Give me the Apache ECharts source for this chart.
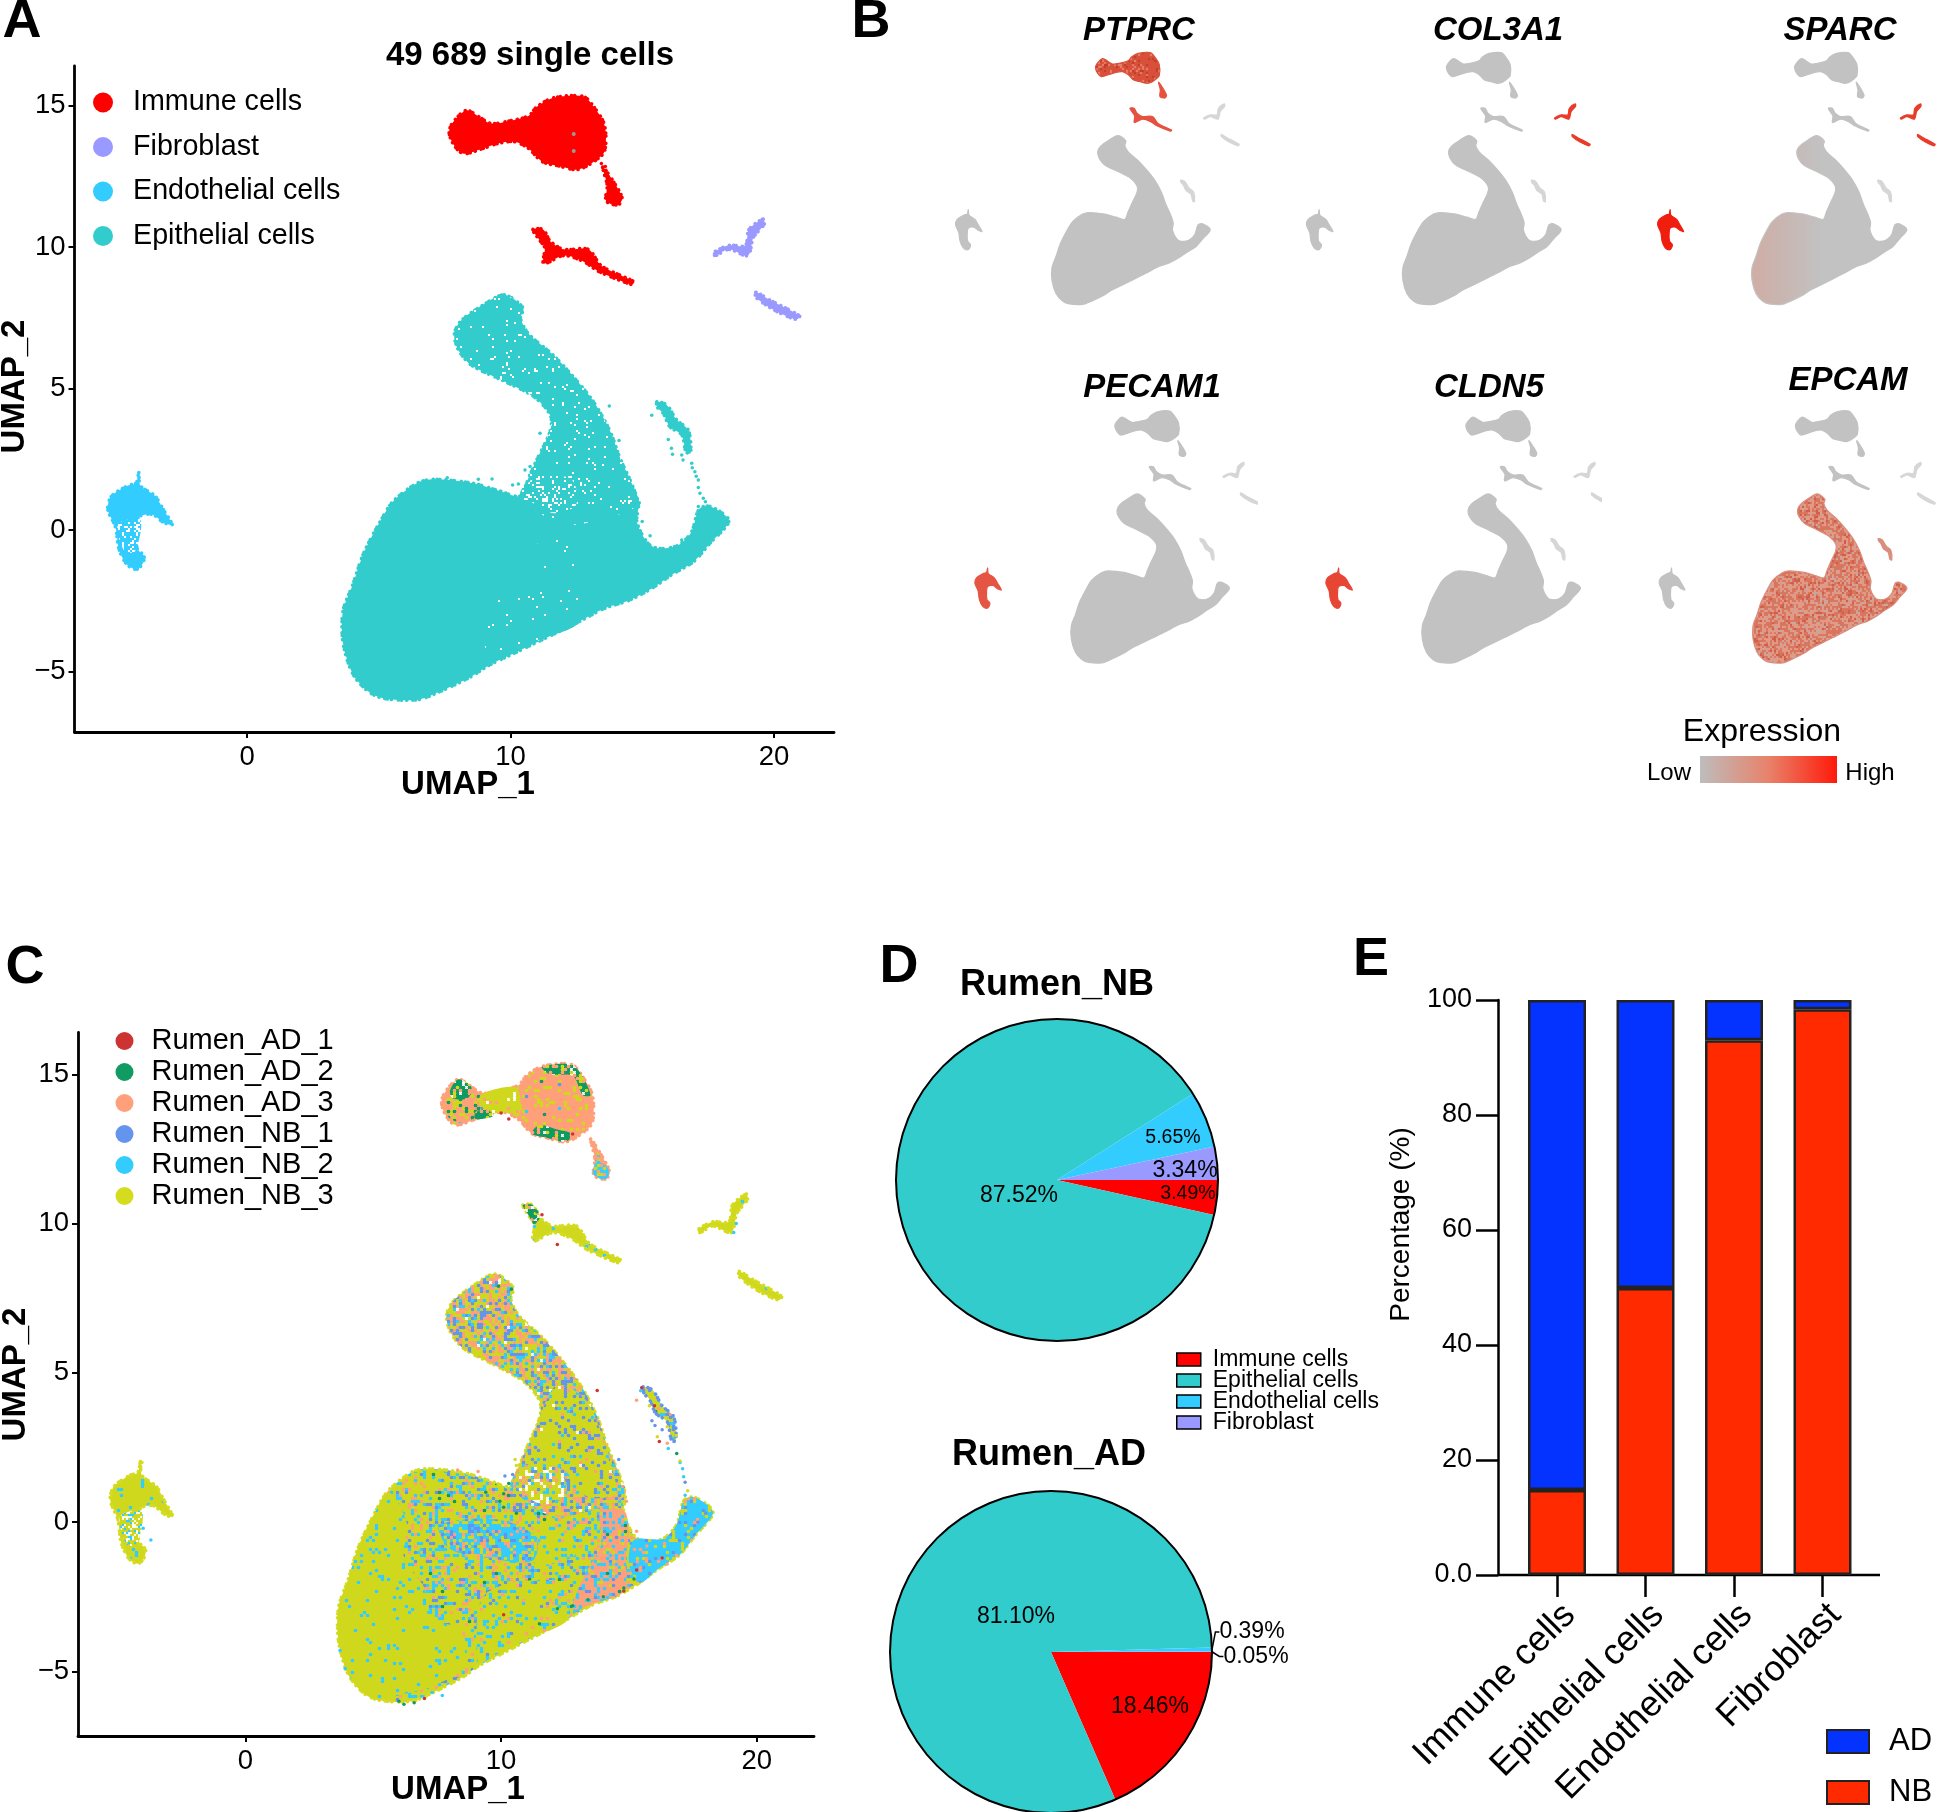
<!DOCTYPE html>
<html><head><meta charset="utf-8">
<style>html,body{margin:0;padding:0;background:#fff}#c{width:1946px;height:1812px}</style>
<script src="https://cdn.jsdelivr.net/npm/echarts@6/dist/echarts.min.js"></script>
</head><body><div id="c"></div>
<script>
// ---------- DATA: cluster outlines (UMAP_1, UMAP_2) ----------
const epiBody=[[9.76,8.31],[10.48,7.85],[10.38,7.48],[10.69,6.93],[11.61,6.19],[12.44,5.36],[13.16,4.52],[13.77,3.51],[14.18,2.49],[14.59,1.66],[14.86,0.92],[14.8,0.28],[15.21,-0.46],[15.62,-0.65],[16.34,-0.55],[16.86,-0.09],[17.16,0.74],[17.58,0.83],[18.29,0.33],[17.58,-0.46],[16.96,-1.11],[16.14,-1.57],[15.42,-2.03],[14.49,-2.49],[13.57,-2.77],[12.44,-3.32],[11.2,-3.88],[9.97,-4.43],[9.15,-4.8],[8.53,-5.17],[7.3,-5.72],[6.47,-6],[5.24,-5.96],[4.62,-5.72],[4.01,-5.08],[3.64,-3.97],[3.64,-2.86],[4.01,-1.94],[4.42,-0.83],[5.04,0.28],[5.55,1.02],[6.47,1.66],[7.09,1.79],[8.53,1.66],[9.56,1.39],[10.38,1.2],[10.69,1.85],[11,2.49],[11.51,3.51],[11.51,4.06],[10.89,4.71],[9.76,5.26],[8.53,5.82],[8.02,6.37],[7.87,6.93],[8.12,7.39],[8.94,7.94]];
const epiTail=[[15.55,4.53],[15.93,4.42],[16.31,3.89],[16.75,3.53],[16.84,2.71],[16.66,2.77],[16.5,3.36],[16.05,3.65],[15.8,4.12],[15.6,4.3]];
const endoBlob=[[-4.11,2.03],[-4.05,1.57],[-3.49,1.2],[-3.19,0.74],[-2.84,0.18],[-3.19,0.28],[-3.6,0.55],[-4.11,0.46],[-4.21,0],[-4.17,-0.65],[-3.91,-0.92],[-3.97,-1.2],[-4.21,-1.39],[-4.58,-1.2],[-4.87,-0.65],[-4.99,0.09],[-5.29,0.74],[-5.14,1.2],[-4.52,1.57],[-4.21,1.66]];
const immuneBlob=[[7.67,14.04],[7.81,14.4],[8.32,14.83],[8.83,14.59],[9.25,14.37],[9.97,14.46],[10.69,14.64],[11,14.96],[11.62,15.27],[12.75,15.33],[13.16,14.96],[13.57,14.31],[13.57,13.39],[13.16,13.02],[12.54,12.74],[11.82,12.87],[11.2,13.02],[10.69,13.48],[10.17,13.72],[9.56,13.67],[8.94,13.48],[8.22,13.3],[7.87,13.58]];
const immuneSpot=[[13.5,12.83],[13.87,12.37],[14.24,11.73],[14.08,11.49],[13.63,11.63],[13.67,12.18]];
const immuneLow=[[10.85,10.62],[11.24,10.62],[11.51,10.21],[12.02,9.92],[12.95,9.92],[13.46,9.33],[14.7,8.77],[14.6,8.68],[13.35,9.14],[12.73,9.51],[12.02,9.7],[11.26,9.42],[11.3,9.97],[11.1,10.25]];
const fibroUp=[[19.59,10.99],[19.63,10.8],[19.22,10.34],[19.01,9.7],[18.29,9.92],[17.78,9.7],[17.68,9.79],[18.29,10.06],[18.91,10.06],[19.05,10.62]];
const fibroLow=[[19.32,8.4],[19.84,8.13],[20.97,7.57],[20.86,7.44],[20.04,7.76],[19.32,8.22]];
// sub-regions of the clusters, where the mix of samples / density changes
const subArm=[[9.76,8.31],[10.48,7.85],[10.38,7.48],[10.69,6.93],[11.61,6.19],[12.44,5.36],[13.16,4.52],[13.77,3.51],[14.18,2.49],[14.59,1.66],[14.86,0.92],[13.9,0.5],[12,0.2],[10.38,1.2],[10.69,1.85],[11,2.49],[11.51,3.51],[11.51,4.06],[10.89,4.71],[9.76,5.26],[8.53,5.82],[8.02,6.37],[7.87,6.93],[8.12,7.39],[8.94,7.94]];
const subHoles=[[10.5,1.3],[11,1.9],[12.3,1.8],[12.5,0.9],[11.6,0.6]];
const subArmLow=[[10.9,2],[11.5,3.5],[12.2,4.6],[13.3,4.1],[14,2.8],[14.4,1.6],[14.5,0.95],[13.4,0.85],[12.4,1.8],[11.4,1.9]];
const subDense=[[3.64,-3.97],[3.64,-2.86],[4.01,-1.94],[4.42,-0.83],[5.04,0.28],[5.6,1],[6.3,0],[6.2,-1.2],[7,-2.2],[7.2,-3.2],[8.4,-3.6],[8.6,-4.8],[7.3,-5.5],[6.2,-5.75],[5.24,-5.96],[4.62,-5.72],[4.01,-5.08]];
const subBlueBand=[[7.6,-0.1],[9.8,0.1],[11.4,-0.5],[11.2,-1.3],[9.5,-1.2],[8,-0.9]];
const subMidYellow=[[11,-0.5],[12.6,-0.3],[12.9,-1.1],[11.4,-1.4]];
const subLowYellow=[[9.4,-2.4],[12.4,-2],[12.6,-3.25],[11.2,-3.85],[9.9,-4.4],[9.1,-4.7]];
const subOrange=[[13.9,0.5],[14.8,0.4],[15,-0.3],[14.9,-1],[14.8,-2.3],[13.7,-2.7],[12.8,-2.9],[13.3,-1.7],[13.9,-0.8]];
const subTip=[[15.2,-0.6],[16.34,-0.55],[16.86,-0.09],[17.16,0.74],[17.58,0.83],[18.29,0.33],[17.58,-0.46],[16.96,-1.11],[16.14,-1.57],[15.42,-2.03],[15,-1.4]];
const subEndoLow=[[-4.9,0.2],[-4.05,0.35],[-4.25,-0.75],[-4.65,-0.75]];
const subImmLeft=[[7.9,14.2],[9.2,14.3],[9.3,13.7],[8.4,13.4],[7.9,13.6]];
const subImmBridge=[[9.2,14.3],[10.6,14.55],[10.7,13.6],[10.2,13.72],[9.3,13.7]];
const subImmG1=[[8,14.45],[8.32,14.83],[8.83,14.59],[8.7,14.2],[8.1,14.2]];
const subImmG2=[[11.2,13.02],[11.82,12.87],[12.54,12.74],[12.8,13],[12.2,13.15],[11.5,13.3]];
const subImmG3=[[11.6,15.25],[12.75,15.33],[13.16,14.96],[13.5,14.3],[13.2,14.3],[12.8,14.95],[11.9,15]];
const subImmG4=[[9,13.5],[9.7,13.6],[9.5,13.8],[9,13.75]];
const subLowHead=[[10.85,10.62],[11.24,10.62],[11.51,10.21],[11.3,9.97],[11.1,10.25]];
const subSpotLow=[[13.63,11.63],[14.08,11.49],[14.24,11.73],[14,12],[13.67,12]];

// stray cells outside the solid outlines
const strayEpi=[[13.75,4.38],[14.12,3.16],[11.12,3.42],[8.78,1.79],[10.55,2.12],[10.74,2.24],[10.08,1.59],[10.3,1.63],[14.89,0.96],[15.36,4.06],[15.99,3.2],[16.11,2.89],[16.15,2.68],[16.5,2.65],[16.55,2.47],[16.88,2.36],[17,2.06],[17.13,1.77],[17.13,1.5],[17.19,1.3],[17.32,1.12],[17.13,0.83],[17.4,1],[16.9,2.2],[17.05,1.9],[15,0.3],[15.3,-0.2],[16.5,-0.35],[7.6,1.85],[9.3,1.8]];
const strayImm=[[13.6,12.85],[10.9,10.55],[13.45,12.95],[13.7,12.5]];
const strayGrey=[[12.4,14],[12.4,13.4]];
const sampleAD1=[[13.76,4.41],[15.5,4.5],[16.19,2.7],[12.2,9.3],[15.3,-1.6],[14.8,-2.3],[10.1,-3.1],[7,-5.9],[11.6,10.3],[16.3,-1.2],[10,13.7],[12.8,13],[10.3,13.5],[16,3.9]];
const sampleAD2=[[16.87,2.3],[12.2,-2.9],[12.8,-2.8],[13.4,-2.6],[14,-2.5],[14.8,-2.2],[15.2,-1.9],[11.5,-3.4],[6.2,-6.1],[6.6,-6.05],[6,-6],[9.9,7.9],[10.4,7.8],[10.1,0.5],[10.6,0.3],[9.4,1],[10.3,1.3],[11.4,10.4],[11.3,10.2],[10.1,0.95],[9.95,0.7]];
const sampleAD3=[[15.3,4.08],[16.5,2.64],[14.9,0.7],[15.3,-0.3],[9.9,8.2],[16.5,-1.4],[13.6,12.6],[13.8,12.2],[15.7,-0.8],[8.3,1.75],[9.1,1.7]];
const sampleNB1=[[16.02,3.24],[17.2,1.34],[16,3.7],[15.9,3.4],[16.3,3.1],[18,0.3],[17.7,0],[10.15,1.55],[10.45,1.6],[14.6,2.1]];
const sampleNB2=[[15.46,4.4],[16.54,2.47],[17.1,1.79],[17.14,1.52],[17,2],[17.2,0.9],[11.3,9.9],[19.2,10],[19.1,9.7],[10.8,-3.4],[7.7,-5.8],[7.3,-5.7],[3.7,-4.3],[3.9,-4.9],[-4,-0.2],[-3.7,-0.6]];
const sampleNB3=[[16.11,2.86],[17,2.05],[17.3,1.05],[15.8,3.9],[16.5,3.2],[16.85,2.9],[-4.1,1.8],[-4.05,2],[17.2,0.6],[10.55,2.1],[10.6,1.9]];

const cellTypes=['Immune cells','Fibroblast','Endothelial cells','Epithelial cells'];
const sampleNames=['Rumen_AD_1','Rumen_AD_2','Rumen_AD_3','Rumen_NB_1','Rumen_NB_2','Rumen_NB_3'];
const umapXTicks=[0,10,20];
const umapYTicks=[-5,0,5,10,15];
const genes=['PTPRC','COL3A1','SPARC','PECAM1','CLDN5','EPCAM'];
// expression level (0-1) per gene for immune, fibroblast, endothelial, epithelial
const exprPTPRC=[0.72,0,0,0];
const exprCOL3A1=[0,0.85,0,0];
const exprSPARC=[0,0.85,1,0];
const exprPECAM1=[0,0,0.7,0];
const exprCLDN5=[0,0,0.78,0];
const exprEPCAM=[0,0,0,0.45];
const pieOrder=['Immune cells','Epithelial cells','Endothelial cells','Fibroblast'];
const pieNB=[3.49,87.52,5.65,3.34];
const pieAD=[18.46,81.10,0.39,0.05];
const ringValue=[100];
const barCategories=['Immune cells','Epithelial cells','Endothelial cells','Fibroblast'];
const barNB=[14.8,49.9,93,98.4];
const barAD=[85.2,50.1,7,1.6];

// ---------- STYLE ----------
const FONT='"Liberation Sans",Arial,Helvetica,sans-serif';
const COL={immune:'#ff0000',fibro:'#9999ff',endo:'#33ccff',epi:'#33cccc'};
const SAMPLE_COL=['#cd3333','#0f9b62','#ffa07a','#6495ed','#33ccff','#d4dc1e'];
const PIE_COL={'Immune cells':'#ff0000','Epithelial cells':'#33cccc','Endothelial cells':'#33ccff','Fibroblast':'#9999ff'};
const PAL={y:'#d0d81e',b:'#33ccff',o:'#ffa07a',v:'#6495ed',g:'#0f9b62',r:'#cd3333',w:'#ffffff',t:'#33cccc',c:'#33ccff',
  s:'#d9755f',p:'#e09a88',d:'#d25f4a',f:'#c9a79f',a:'#d9503c',e:'#c2402c',h:'#e57d68'};
// fill texture only (no data): a typed swatch, sampled so that it does not show a lattice
function tile(rows,cell){
  cell=cell||3;
  const W=173,H=157,n=rows.length,len=rows[0].length;
  const cv=document.createElement('canvas');cv.width=W*cell;cv.height=H*cell;
  const x=cv.getContext('2d');
  const at=(i,j)=>{let h=Math.imul(i+1,73856093)^Math.imul(j+1,19349663);h=Math.imul(h^(h>>>13),1274126177)>>>0;return rows[h%n][(h>>>10)%len];};
  for(let j=0;j<H;j++)for(let i=0;i<W;i++){x.fillStyle=PAL[at(i,j)];x.fillRect(i*cell,j*cell,cell,cell);}
  // majority colour first, minority dots on top, so they stay visible
  const counts={};rows.join('').split('').forEach(c=>counts[c]=(counts[c]||0)+1);
  Object.keys(counts).sort((a,b)=>counts[b]-counts[a]).forEach(ch=>{
    if(ch==='w'||ch==='t'||ch==='c')return;
    x.fillStyle=PAL[ch];
    for(let j=0;j<H;j++)for(let i=0;i<W;i++){if(at(i,j)===ch){x.beginPath();x.arc(i*cell+cell/2,j*cell+cell/2,cell*0.6,0,6.3);x.fill();}}
  });
  return {image:cv,repeat:'repeat'};
}
const tDense=tile(['yyyyyyyyyyyyybyyyyyy','yyyybyyyyyyyyyyyyyyy','yyyyyyyyyyyyyyyyyyby','yyyyyyyybyyyyyyyyyyy','ybyyyyyyyyyyyyyyyyyy','yyyyyyyyyyyybyyyyyyy','yyyyyybyyyyyyyyyybyy','yyyyyyyyyyyyyyyyyyyy','yyybyyyyyyyyybyyyyyy','yyyyyyyyybyyyyyyyyyy']);
const tYB=tile(['yybyyoyyybbyyyyybyyy','yyyyybyyyvyyybyyyyyb','byyyyyyyoyyyyyyybyyy','yyybyyybyyybyyyoyyyy','yyyyyybbyyyyyyyvyyby','yvyyoyyyyybyyyyyyyyy','yyyybyyyyyyyyybyyoyy','byyyyyyyybyyvyyyybyy']);
const tMix=tile(['yybyyoybyvyybyvyoyyb','oyyybyyvyyybbyoyyybv','byyoyyvyyoyybyybyvyy','yyoyybbyyvyybyyoyyyo','vyyybyyyvyybyyoyybyy','vyybyoyyygbyyvyyyyby','yybyyoyybyyvyybbyoyy','yybyvyyoyyybyyyyoyyv','oyyyvybyyoyybyyvyyby','byyoyybyyyyoyyvyybyy','yyoyybyyvybyyybyyyyo','bvyyyyyvyyyyoyybyyvy','yybyyoyyybygyybyvyyb','ybyyoyybyvyyybyoyyby']);
const tArm=tile(['ovyybowvoyybyovywoyb','yoobvyoyyovbyyoovyyv','vyoyovbyyoyvyoybvoyy','ybyoovyyowbyovyyoyyy','oyvbyoyvyyooybvyovvb','yovyoyybovoyyovbyoyv','byovyvoyyybvoyoyvyov','oovybyyowvoyyobyyvbo','yvyoobyoyybvyvoyoyov','vybyovyoyvooybyvoyyb','yoyobyvyobyyvoyybvoy','oyvbyoovybyoyoyvbyoy']);
const tArmLow=tile(['yyvyyybyyvyyyyoyyvyy','yvyyyyvyyyybyyyyvyyb','yyybyyyyvyyyyvyyyyyy','vyyyyvyyyybyyyyyvyyw','yyyoyyyyvyyyvyybyyyy','ybyyvyyyyyvyyyyyyvyy','yyyyyyvyybyyyoyyyyyv','vyyyvyyyyyyyvyyyvyyy']);
const tHoles=tile(['wyywbywoyyyvwyoywbyy','yyowywvyybwyygwyyoyy','byywyoywyyyybwyvywyy','wyvyywybwoyywywyoyyw','yywgybwyyyvywbyyyybw','oyyyyywoyywbyyyyvwyo','wbyyvwyyyyyoyywbwyyy','yyoyywbyyyvwyyyoywby']);
const tBlue=tile(['bbybvbyobbybbyvboybb','ybbobybbvybbobybbybv','bvybbbyybobbvbybbobb','bbobyvbbybbybbobyvby','ybbybbobbvybbybbbybo','bobvybbybbobyvbbobyb','bybbybvbobbybbybvbby','vbobbybbybbvobybbobb']);
const tTip=tile(['bbbvbbybbobbbbvbbbyb','bybbbbobbbbybbbbbvbb','bbbobbbbybbbvbbybbbb','vbbbbybbbbbobbbbbbyb','bbybbbvbbybbbbobbvbb','bbbbobbbbbbbybbbbbbb','ybbbbbybvbbbbbybbobb','bbbvbbbbbbobbbbbbbyb']);
const tOrange=tile(['oooboyoooboovoogobbo','bobooobooyoobooooyoo','oooyoobooooboyoooboo','oboooooyboooooboooby','oovoobooogoobbooyooo','boooyooboooyoooboooo','ooboooboovoooboyoobo','yoobooyoooboooooboov','oooooboobooyobooogoo','obooyoooovooobooyobo']);
const tGreen=tile(['ggogwgoggyogwggoggyo','ogygggwogggoyggwgogg','ggoggoggyggwgogggogy','wgggyogggoggggyoggwg','gogwgggoggygwggoggog','yggoggwggogggoggwggy']);
const tImm=tile(['oooyooooooyoooooyooo','oyoooooyooooooyooooo','ooooooooooyoooooooog','ooyooyoooooooyoooooo','oooooooooyoooovyoooo','yoooooyoobooyooooooo','ooooyooooooooooooyoo','oooooooyoooyoooooooo']);
const tImmLeft=tile(['oyoyoogoyooyooogoyoo','yoooygooyoyoogyoooyo','oogoyoyooogyoyoooogy','oyooogooyoyoooygoooo','yoooyoogyooyoogooyoo','ooygoooyoyoooyoogoyo']);
const tBridge=tile(['yyyoyyyyyyoyyyyyyywy','yyyyyyoyyyyyywyyyoyy','oyyyyyyyyyyoyyyyyyyy','yyyyoyyyvyyyyyyoyyyy','yyyyyyyyyyyyoyyyyyyy']);
const tSpeckT=tile(['tttttttttwtttttttttt','tttttttttttttttttttt','tttttwtttttttttttttt','tttttttttttttwwttttt','ttwttttttttttttttttt','tttttttttttttttttttt','ttttttttttttttttwttt','tttttwwttttttttttttt','tttttttttttttttttttt','twtttttttttttttttttt'],2);
const tSpeckHole=tile(['ttwtttttwwttttttwttt','tttttttttttttwtttttw','twtttttttwttttttwwtt','tttwwttttttwtttttttt','ttttttttwttttttwttwt','wtttwtttttttwwtttttt','tttttttwttttttttwttt','ttwwtttttttttwttttwt'],2);
const tCenterT=tile(['tttttttttttttttttttttttwtttttt','tttttttttttttttttttttttttttttt','tttttttttttttttttttttttttttwtt','ttttwttttttttttttttttttttttttt','tttttttttttttttttttttttttttttt','tttttttttttttttttttttttttttttt','tttttttttwtttttttttttttttttttt','tttttttttttttttttttttttttttttt'],2);
const tSparseE=tile(['cccwcccwwc','cwccccwccc','ccwcwcccww','wcccwccccw','cwcccwcwcc','wccwccccwc'],2);
const tSparseY=tile(['ywbywwyyby','wywyybwyyw','yybwywyywy','bwyywyybwy','yywybywwyy','wyybwyywyb'],2);
const tEpcam=tile(['spspdsfspspsdspfspsp','psdspfspdspspspsdpsf','spspspspsfspdspspsps','dsfspdspspspfspspdsp','spspspsdpspspspsfsps','pfspspfspdspdspspspd','spdspspspspfspspdsps','pspsdspfspspspsdspsp'],2);
const tPtprc=tile(['aaheaahaaeahaaaheaaa','haaaeaahaaaaeaahaaea','aeahaaaaeahaaaaahaaa','aaaaheaaahaaeaaaeaah','ahaaaaahaaaahaeaaaaa','aaeaahaaeaahaaaahaea'],2);

const GREY='#c2c2c2',GREYL='#d6d6d6';
const exprStops=[[0,[194,194,194]],[0.5,[221,122,102]],[1,[240,30,14]]];
function levelColor(v){
  let a=exprStops[0],b=exprStops[1];
  if(v>0.5){a=exprStops[1];b=exprStops[2];}
  const k=(v-a[0])/(b[0]-a[0]);
  return 'rgb('+a[1].map((c,i)=>Math.round(c+(b[1][i]-c)*k)).join(',')+')';
}

// ---------- BUILDERS ----------
const series=[],grids=[],xAxes=[],yAxes=[];
const GRAIN=[0.1,5,0.1,3,0.1,7,0.1,4,0.1,2.5,0.1,6];
function addGrid(g,x,y){grids.push(g);xAxes.push(Object.assign({gridIndex:grids.length-1},x));yAxes.push(Object.assign({gridIndex:grids.length-1},y));return grids.length-1;}
function polySeries(name,gi,color,layers){
  series.push({type:'custom',name:name,xAxisIndex:gi,yAxisIndex:gi,clip:true,silent:true,itemStyle:{color:color},
    encode:{x:0,y:1},data:layers.map(l=>[l.poly[0][0],l.poly[0][1]]),
    renderItem:function(p,api){
      const l=layers[p.dataIndex];
      const st={fill:l.fill};
      if(l.edge){st.stroke=l.edge;st.lineWidth=3.6;st.lineDash=GRAIN;st.lineCap='round';}
      if(l.soft){st.stroke=l.soft;st.lineWidth=1.2;st.lineJoin='round';}
      return {type:'polygon',shape:{points:l.poly.map(q=>api.coord(q)),smooth:0.3},style:st};
    }});
}
function dots(name,gi,pts,color,size){series.push({type:'scatter',name:name,xAxisIndex:gi,yAxisIndex:gi,silent:true,data:pts,symbolSize:size||3.5,itemStyle:{color:color,opacity:1}});}
const minusFmt=v=>String(v).replace('-','\u2212');
function umapAxes(){
  const line={show:true,onZero:false,lineStyle:{color:'#000',width:2.8}};
  const tick={show:true,length:6,lineStyle:{color:'#000',width:2}};
  return [
    {type:'value',min:-6.55,max:22.28,splitLine:{show:false},axisLine:line,axisTick:Object.assign({customValues:umapXTicks},tick),
      axisLabel:{customValues:umapXTicks,formatter:minusFmt,color:'#000',fontFamily:FONT,fontSize:27.5,margin:11}},
    {type:'value',min:-7.14,max:16.4,splitLine:{show:false},axisLine:line,axisTick:Object.assign({customValues:umapYTicks},tick),
      axisLabel:{customValues:umapYTicks,formatter:minusFmt,color:'#000',fontFamily:FONT,fontSize:27.5,margin:9,padding:[3,0,0,0]}}
  ];
}

// ---------- A ----------
{
  const [x,y]=umapAxes();
  const g=addGrid({left:74.5,top:66,width:759.5,height:666},x,y);
  polySeries('Epithelial cells',g,COL.epi,[
    {poly:epiBody,fill:COL.epi,edge:COL.epi},
    {poly:subArm,fill:tSpeckT},{poly:subHoles,fill:tSpeckHole},{poly:subMidYellow,fill:tCenterT},{poly:subLowYellow,fill:tCenterT},
    {poly:epiTail,fill:COL.epi,edge:COL.epi}]);
  polySeries('Endothelial cells',g,COL.endo,[{poly:endoBlob,fill:COL.endo,edge:COL.endo},{poly:subEndoLow,fill:tSparseE}]);
  polySeries('Fibroblast',g,COL.fibro,[{poly:fibroUp,fill:COL.fibro,edge:COL.fibro},{poly:fibroLow,fill:COL.fibro,edge:COL.fibro}]);
  polySeries('Immune cells',g,COL.immune,[{poly:immuneBlob,fill:COL.immune,edge:COL.immune},{poly:immuneSpot,fill:COL.immune,edge:COL.immune},{poly:immuneLow,fill:COL.immune,edge:COL.immune}]);
  dots('epi strays',g,strayEpi,COL.epi);dots('immune strays',g,strayImm,COL.immune);dots('grey cells',g,strayGrey,'#999999',4);
}
// ---------- C ----------
{
  const [x,y]=umapAxes();x.max=22.24;y.min=-7.16;
  const g=addGrid({left:78,top:1032.5,width:736,height:703.5},x,y);
  polySeries('Epithelial mix',g,SAMPLE_COL[5],[
    {poly:epiBody,fill:tMix,edge:SAMPLE_COL[5]},{poly:subDense,fill:tDense},{poly:subLowYellow,fill:tYB},{poly:subMidYellow,fill:tYB},
    {poly:subBlueBand,fill:tBlue},{poly:subArm,fill:tArm},{poly:subArmLow,fill:tArmLow},{poly:subHoles,fill:tHoles},
    {poly:subOrange,fill:tOrange},{poly:subTip,fill:tTip},{poly:epiTail,fill:tMix,edge:SAMPLE_COL[3]}]);
  polySeries('Endothelial mix',g,SAMPLE_COL[5],[{poly:endoBlob,fill:tDense,edge:SAMPLE_COL[5]},{poly:subEndoLow,fill:tSparseY}]);
  polySeries('Fibroblast mix',g,SAMPLE_COL[5],[{poly:fibroUp,fill:tDense,edge:SAMPLE_COL[5]},{poly:fibroLow,fill:tDense,edge:SAMPLE_COL[5]}]);
  polySeries('Immune mix',g,SAMPLE_COL[2],[
    {poly:immuneBlob,fill:tImm,edge:SAMPLE_COL[2]},{poly:subImmLeft,fill:tImmLeft},{poly:subImmBridge,fill:tBridge},
    {poly:subImmG1,fill:tGreen},{poly:subImmG2,fill:tGreen},{poly:subImmG3,fill:tGreen},{poly:subImmG4,fill:tGreen},
    {poly:immuneSpot,fill:tOrange,edge:SAMPLE_COL[2]},{poly:subSpotLow,fill:tBlue},{poly:immuneLow,fill:tDense,edge:SAMPLE_COL[5]},{poly:subLowHead,fill:tGreen}]);
  [sampleAD1,sampleAD2,sampleAD3,sampleNB1,sampleNB2,sampleNB3].forEach((pts,i)=>dots(sampleNames[i],g,pts,SAMPLE_COL[i]));
}
// ---------- B ----------
const panelB=[
  {gene:0,levels:exprPTPRC,x0:1012.7,y0:233.6,max:21.1},
  {gene:1,levels:exprCOL3A1,x0:1363.6,y0:233.6,max:21.2},
  {gene:2,levels:exprSPARC,x0:1715,y0:233.6,max:22},
  {gene:3,levels:exprPECAM1,x0:1032,y0:592,max:20.8},
  {gene:4,levels:exprCLDN5,x0:1383,y0:592,max:20.2},
  {gene:5,levels:exprEPCAM,x0:1716.5,y0:592,max:22}];
panelB.forEach(p=>{
  const ux=10.8,uy=11.8;
  const hid={show:false,splitLine:{show:false}};
  const g=addGrid({left:p.x0-6*ux,top:p.y0-16*uy,width:(p.max+6)*ux,height:23*uy},
    Object.assign({type:'value',min:-6,max:p.max},hid),Object.assign({type:'value',min:-7,max:16},hid));
  const col=(v,low)=>v>0?levelColor(v):(low||GREY);
  const L=p.levels,name=genes[p.gene];
  let epiFill=col(L[3]);
  if(name==='EPCAM')epiFill=tEpcam;
  if(name==='SPARC')epiFill=new echarts.graphic.LinearGradient(0,0,1,0,[{offset:0,color:'#d0ada5'},{offset:0.22,color:'#c8b6b2'},{offset:0.45,color:GREY},{offset:1,color:GREY}]);
  const immFill=name==='PTPRC'?tPtprc:col(L[0]);
  const soft=c=>typeof c==='string'?c:undefined;
  polySeries(name,g,GREY,[
    {poly:epiBody,fill:epiFill,soft:name==='EPCAM'?'#d98e7e':GREY},
    {poly:epiTail,fill:name==='EPCAM'?'#d98e7e':GREYL,soft:name==='EPCAM'?'#d98e7e':GREYL},
    {poly:endoBlob,fill:col(L[2]),soft:col(L[2])},
    {poly:fibroUp,fill:col(L[1],GREYL),soft:col(L[1],GREYL)},{poly:fibroLow,fill:col(L[1],GREYL),soft:col(L[1],GREYL)},
    {poly:immuneBlob,fill:immFill,soft:soft(immFill)||'#d9503c'},
    {poly:immuneSpot,fill:col(L[0]),soft:col(L[0])},
    {poly:immuneLow,fill:col(L[0]),soft:col(L[0])}]);
});
// ---------- D ----------
function pieData(vals,outer,sizes){
  return pieOrder.map((n,i)=>{
    const d={name:n,value:vals[i],itemStyle:{color:PIE_COL[n]},label:{fontSize:sizes[i]}};
    if(outer.includes(i)){d.label.position='outside';d.labelLine={show:true,length:8,length2:4,lineStyle:{color:'#000',width:1.5}};}
    return d;
  });
}
function addPie(name,vals,cx,cy,labelPos,outer,sizes){
  series.push({type:'pie',name:name,center:[cx,cy],radius:[0,161],startAngle:0,clockwise:true,silent:true,avoidLabelOverlap:false,minShowLabelAngle:0,
    data:pieData(vals,outer,sizes),
    label:{show:true,position:'inner',color:'#000',fontFamily:FONT,fontSize:23,formatter:p=>p.value.toFixed(2)+'%'},
    labelLine:{show:false},
    labelLayout:p=>({x:labelPos[p.dataIndex][0],y:labelPos[p.dataIndex][1],align:'center',verticalAlign:'middle'})});
  series.push({type:'pie',name:name+' outline',center:[cx,cy],radius:[160,162],silent:true,label:{show:false},labelLine:{show:false},
    data:[{name:'outline',value:ringValue[0],itemStyle:{color:'#000'}}]});
}
addPie('Rumen_NB',pieNB,1057,1180,[[1188,1193.5],[1019,1195.5],[1173,1138],[1185,1170.5]],[],[19.5,23,19.5,23]);
addPie('Rumen_AD',pieAD,1051,1652,[[1150,1706.5],[1016,1617],[1252,1632],[1256,1656.5]],[2,3],[23,23,23,23]);
// ---------- E ----------
{
  const line={show:true,onZero:false,lineStyle:{color:'#000',width:2.5}};
  const tick={show:true,length:22,lineStyle:{color:'#000',width:2.5}};
  const g=addGrid({left:1512.75,top:1000,width:354,height:575},
    {type:'category',data:barCategories,axisLine:{show:false},axisTick:Object.assign({alignWithLabel:true},tick),
     axisLabel:{interval:0,rotate:45,color:'#000',fontFamily:FONT,fontSize:36,margin:22,verticalAlign:'top'}},
    {type:'value',min:0,max:100,interval:20,offset:14.75,splitLine:{show:false},axisLine:line,axisTick:tick,
     axisLabel:{formatter:v=>v===0?'0.0':String(v),color:'#000',fontFamily:FONT,fontSize:27,margin:26}});
  const st={borderColor:'#222',borderWidth:2.5};
  series.push({type:'bar',name:'NB',stack:'e',xAxisIndex:g,yAxisIndex:g,barWidth:58,silent:true,itemStyle:Object.assign({color:'#ff2a00'},st),data:barNB});
  series.push({type:'bar',name:'AD',stack:'e',xAxisIndex:g,yAxisIndex:g,barWidth:58,silent:true,itemStyle:Object.assign({color:'#0433ff'},st),data:barAD});
}
// ---------- TEXT ----------
function txt(t,x,y,size,bold,o){
  o=o||{};
  return {type:'text',x:x+(o.rot?2:0),y:y+2.5,rotation:o.rot||0,silent:true,z:50,style:{text:t,fill:'#000',font:(o.it?'italic ':'')+(bold?'bold ':'')+size+'px '+FONT,
    textAlign:o.al||'center',textVerticalAlign:'middle',align:o.al||'center',verticalAlign:'middle'}};
}
const graphics=[
  txt('A',22,20,54,true),txt('B',871,20,54,true),txt('C',25,966,54,true),txt('D',899,965,54,true),txt('E',1371,958,54,true),
  txt('49 689 single cells',530,53,33,true),
  txt('UMAP_1',468,782,33,true),txt('UMAP_2',13,384,33,true,{rot:Math.PI/2}),
  txt('UMAP_1',458,1787,33,true),txt('UMAP_2',14,1372,33,true,{rot:Math.PI/2}),
  txt('Rumen_NB',1057,983,36,true),txt('Rumen_AD',1049,1453,36,true),
  txt('Percentage (%)',1399,1222,28,false,{rot:Math.PI/2}),
  txt('Expression',1762,730,32,false),txt('Low',1669,771,24,false),txt('High',1870,771,24,false),
  {type:'line',silent:true,shape:{x1:1498,y1:1575,x2:1880,y2:1575},style:{stroke:'#000',lineWidth:2.5}},
  {type:'rect',silent:true,shape:{x:1700,y:756,width:137,height:27},style:{fill:new echarts.graphic.LinearGradient(0,0,1,0,[{offset:0,color:'#bdbdbd'},{offset:0.5,color:'#e8826a'},{offset:1,color:'#ff1a0a'}])}}
];
const geneLabelPos=[[1139,28],[1498,28],[1840,28],[1152,385],[1489,385],[1848,378]];
genes.forEach((n,i)=>graphics.push(txt(n,geneLabelPos[i][0],geneLabelPos[i][1],33,true,{it:true})));

const legendText=(fs,pad)=>({color:'#000',fontFamily:FONT,fontSize:fs,padding:[0,0,0,pad]});
const option={
  animation:false,backgroundColor:'#fff',
  grid:grids,xAxis:xAxes,yAxis:yAxes,series:series,graphic:{elements:graphics},
  legend:[
    {left:88,top:83,orient:'vertical',icon:'circle',itemWidth:20,itemHeight:20,itemGap:15.5,selectedMode:false,data:cellTypes,textStyle:legendText(28.7,15)},
    {left:110.5,top:1021.5,orient:'vertical',icon:'circle',itemWidth:18,itemHeight:18,itemGap:2,selectedMode:false,data:sampleNames,textStyle:legendText(29,13)},
    {left:1171,top:1343,orient:'vertical',icon:'rect',itemWidth:24,itemHeight:13,itemGap:-2,selectedMode:false,data:pieOrder,
      itemStyle:{borderColor:'#000',borderWidth:1.5},textStyle:legendText(23,7)},
    {left:1826,top:1726,padding:0,icon:'rect',itemWidth:42,itemHeight:23,selectedMode:false,data:['AD'],
      itemStyle:{borderColor:'#222',borderWidth:2},textStyle:legendText(31,15)},
    {left:1826,top:1777,padding:0,icon:'rect',itemWidth:42,itemHeight:23,selectedMode:false,data:['NB'],
      itemStyle:{borderColor:'#222',borderWidth:2},textStyle:legendText(31,15)}
  ]
};
echarts.init(document.getElementById('c'),null,{renderer:'canvas'}).setOption(option);
</script></body></html>
